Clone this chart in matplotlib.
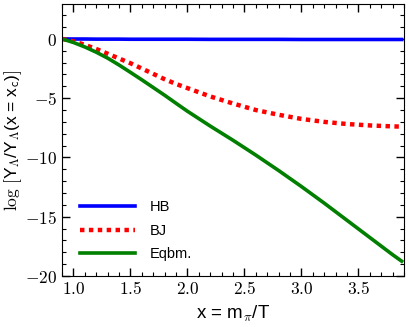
import matplotlib
matplotlib.use("Agg")
import matplotlib.pyplot as plt
from matplotlib.ticker import MultipleLocator, FuncFormatter

plt.rcParams['mathtext.fontset'] = 'cm'

x_vals = [0.9, 1.0, 1.1, 1.2, 1.3, 1.4, 1.5, 1.6, 1.7, 1.8, 1.9, 2.0, 2.2, 2.4, 2.6, 2.8, 3.0, 3.2, 3.4, 3.6, 3.8, 3.88]
hb_vals = [0.0, -0.01, -0.01, -0.02, -0.02, -0.02, -0.03, -0.03, -0.03, -0.03, -0.03, -0.03, -0.04, -0.04, -0.04, -0.04, -0.05, -0.05, -0.05, -0.05, -0.05, -0.05]
bj_vals = [0.0, -0.2, -0.5, -0.85, -1.25, -1.65, -2.05, -2.5, -2.95, -3.4, -3.8, -4.15, -4.85, -5.45, -6.0, -6.4, -6.75, -7.0, -7.18, -7.3, -7.38, -7.4]
eq_vals = [0.0, -0.3, -0.68, -1.12, -1.62, -2.2, -2.82, -3.45, -4.1, -4.75, -5.43, -6.1, -7.35, -8.55, -9.8, -11.1, -12.45, -13.85, -15.3, -16.75, -18.2, -18.75]

labels = ["HB", "BJ", "Eqbm."]
xticks = [1.0, 1.5, 2.0, 2.5, 3.0, 3.5]
yticks = [0, -5, -10, -15, -20]

fig = plt.figure(figsize=(4.09, 3.27), dpi=100)
ax = fig.add_axes([0.1516, 0.156, 0.836, 0.832])

ax.plot(x_vals, hb_vals, color='#0000ff', lw=2.6, label=labels[0])
ax.plot(x_vals, bj_vals, color='#ff0000', lw=3.2, linestyle=(0, (1, 1)), label=labels[1])
ax.plot(x_vals, eq_vals, color='#007f00', lw=2.6, label=labels[2])

ax.set_xlim(0.9, 3.9)
ax.set_ylim(-20, 2.95)
ax.set_xticks(xticks)
ax.set_yticks(yticks)
ax.xaxis.set_minor_locator(MultipleLocator(0.1))
ax.yaxis.set_minor_locator(MultipleLocator(1))
ax.xaxis.set_major_formatter(FuncFormatter(lambda v, p: r"$%.1f$" % v))
ax.yaxis.set_major_formatter(FuncFormatter(lambda v, p: r"$%d$" % round(v)))
ax.tick_params(which='both', direction='in', top=True, right=True, labelsize=12.5)
ax.tick_params(which='major', length=5.5, width=1)
ax.tick_params(which='minor', length=3, width=0.8)
ax.tick_params(axis='x', pad=3)

sans = ['Liberation Sans', 'DejaVu Sans']
ax.set_xlabel("x = m" + r"$_\pi$" + "/T", fontsize=13.5, family=sans, labelpad=4)
ax.set_ylabel(r"$\log\,[$" + "Y" + r"$_\Lambda$" + "/Y" + r"$_\Lambda$" + "(x = x" + r"$_\mathsf{c}$" + ")" + r"$]$",
              fontsize=12.5, family=sans, labelpad=1)

ax.legend(loc='lower left', frameon=False, prop={'family': sans, 'size': 10.5},
          handlelength=3.8, handletextpad=1.0, labelspacing=0.65,
          borderaxespad=0.0, bbox_to_anchor=(0.035, 0.032))

fig.savefig("out.png", dpi=100)
